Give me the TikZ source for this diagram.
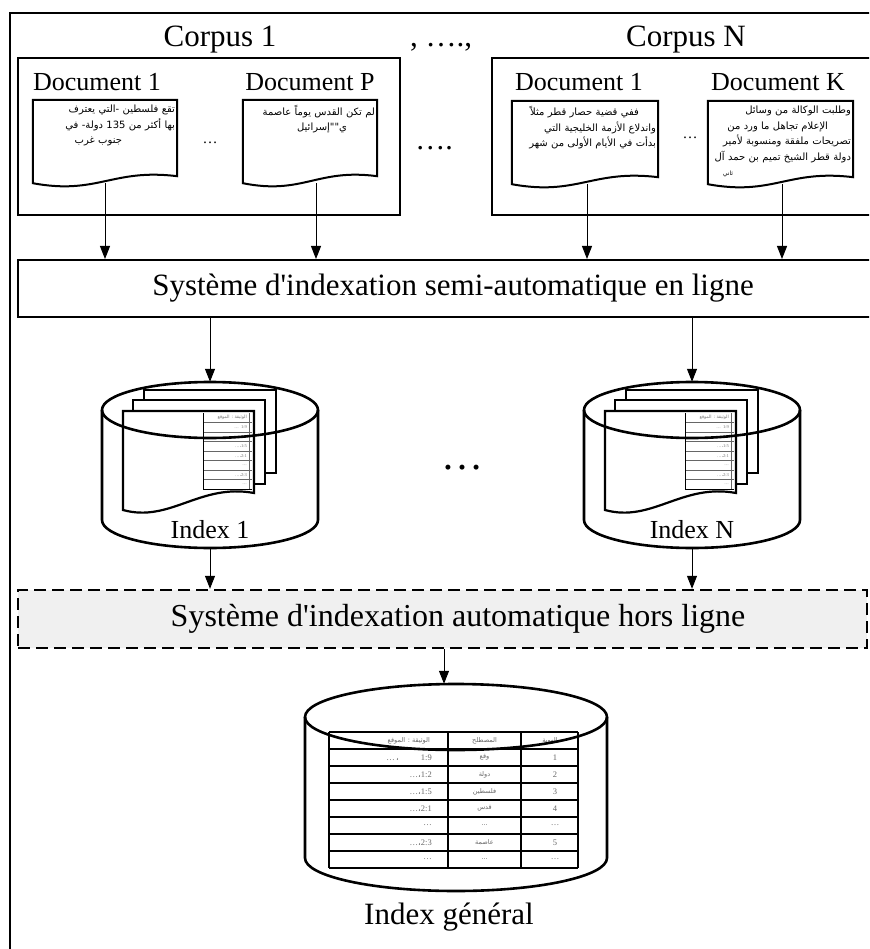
\documentclass[tikz,border=0pt]{standalone}
\usepackage{fontspec}
\setmainfont{Liberation Serif}[Ligatures=TeXOff]
\newfontfamily\arabicfont[Script=Arabic]{DejaVu Sans}
\usetikzlibrary{arrows.meta,calc}
\TeXXeTstate=1
% one line of right-to-left text, kept unbroken
\newcommand\rtlline[1]{\mbox{\beginR #1\endR}}
\newcommand\acomma{{\arabicfont ،}}
% outline of a document sheet with a wavy lower edge, drawn on a named area
\newcommand\docoutline[1]{%
  \draw[docline] (#1.south west) -- (#1.north west) -- (#1.north east)
    -- ([yshift=7pt]#1.south east)
    .. controls ($(#1.south west)!0.55!(#1.south east)+(0,15pt)$)
       and ($(#1.south west)!0.45!(#1.south east)+(0,-12pt)$) .. (#1.south west) -- cycle;}

\tikzset{
  frameline/.style={line width=1.3pt},
  corpusbox/.style={draw, line width=2.6pt, inner sep=0pt},
  bigtext/.style={font=\fontsize{31}{36}\selectfont, inner sep=0pt, anchor=base},
  doclabel/.style={font=\fontsize{26}{31}\selectfont, inner sep=0pt, anchor=base},
  docarea/.style={inner sep=0pt, minimum height=83pt},
  docline/.style={line width=2pt, fill=white},
  doctext/.style={font=\arabicfont\fontsize{10}{15.5}\selectfont, inner sep=0pt, align=right, anchor=north east},
  gapdots/.style={font=\fontsize{15}{18}\selectfont, inner sep=0pt, anchor=base},
  sysbox/.style={draw, line width=2pt, inner sep=0pt, minimum height=57pt},
  offbox/.style={draw, dash pattern=on 12pt off 6pt, line width=2.4pt, fill=black!6, inner sep=0pt, minimum height=58pt},
  systext/.style={font=\fontsize{31}{36}\selectfont, inner sep=0pt},
  flow/.style={line width=1pt, -{Triangle[length=13pt,width=10pt]}},
  cylline/.style={line width=2.6pt},
  pageline/.style={line width=2.2pt, fill=white},
  tabrule/.style={line width=0.6pt, black!60},
  tinytext/.style={font=\fontsize{4.5}{5}\selectfont, text=black!55, inner sep=0pt, anchor=east},
  gentab/.style={line width=1.5pt},
  genlatin/.style={font=\fontsize{8.5}{9}\selectfont, text=black!60, inner sep=0pt},
  genarabic/.style={font=\arabicfont\fontsize{6.5}{8}\selectfont, text=black!60, inner sep=0pt},
  % a storage cylinder holding a stack of index sheets
  pics/indexcyl/.style={code={
    \draw[cylline] (-108,55) -- (-108,-55)
      arc[start angle=180, end angle=360, x radius=108, y radius=28] -- (108,55);
    \draw[pageline] (-66,75) rectangle (66,-8);
    \draw[pageline] (-77,65) rectangle (55,-19);
    \draw[pageline] (-87,-45) -- (-87,54) -- (44,54) -- (44,-28)
      .. controls (-10,-18) and (-40,-58) .. (-87,-45) -- cycle;
    \foreach \k in {1,...,7} \draw[tabrule] (-7,52-9.5*\k) -- (42,52-9.5*\k);
    \draw[line width=0.8pt] (-7,52) -- (-7,-24) -- (42,-24);
    \draw[tabrule] (39,52) -- (39,-24);
    \node[tinytext] (-h) at (37,47.25) {\arabicfont\rtlline{الوثيقة : الموقع}};
    \foreach \k/\txt in {2/{\ldots\enspace 1:9}, 3/{\ldots\acomma 1:2}, 4/{\ldots\acomma 1:5},
                         5/{\ldots\acomma 2:1}, 6/{\ldots}, 7/{\ldots\acomma 2:3}, 8/{\ldots}}
      \node[tinytext] (-r\k) at (37,52-9.5*\k+4.75) {\txt};
    \draw[cylline] (0,55) ellipse[x radius=108, y radius=28];
    \node[inner sep=0pt, minimum width=216pt, minimum height=166pt] (-box) at (0,0) {};
    \node[bigtext, font=\fontsize{26}{30}\selectfont] (-label) at (0,-73) {#1};
  }},
}

\begin{document}
\begin{tikzpicture}[x=1pt, y=1pt]
\useasboundingbox (0,0) rectangle (869,-949);
\clip (0,0) rectangle (869,-949);
\draw[frameline] (10,-990) -- (10,-13) -- (920,-13);

% corpus titles
\node[bigtext] (t1) at (220,-47) {Corpus 1};
\node[bigtext] (tsep) at (441,-47) {, ….,};
\node[bigtext] (tN) at (686,-47) {Corpus N};

% corpus frames
\node[corpusbox, minimum width=382pt, minimum height=157pt] (c1) at (209,-136.5) {};
\node[corpusbox, minimum width=400pt, minimum height=157pt] (cN) at (692,-136.5) {};

% document labels
\node[doclabel] (l11) at (97,-91) {Document 1};
\node[doclabel] (l1P) at (310,-91) {Document P};
\node[doclabel] (lN1) at (579,-91) {Document 1};
\node[doclabel] (lNK) at (778,-91) {Document K};

% document sheets
\node[docarea, minimum width=144pt] (d11) at (105,-141.5) {};
\node[docarea, minimum width=134pt] (d1P) at (310,-141.5) {};
\node[docarea, minimum width=146pt] (dN1) at (585,-142.5) {};
\node[docarea, minimum width=145pt] (dNK) at (780.5,-142.5) {};
\docoutline{d11}
\docoutline{d1P}
\docoutline{dN1}
\docoutline{dNK}

\node[doctext, text width=140pt] (x11) at ([xshift=-2pt,yshift=-5pt]d11.north east)
  {\rtlline{تقع فلسطين -التي يعترف}\\
   \rtlline{بها أكثر من 135 دولة- في}\\
   \rtlline{جنوب غرب}\kern53pt};
\node[doctext, text width=130pt] (x1P) at ([xshift=-2pt,yshift=-5pt]d1P.north east)
  {\rtlline{لم تكن القدس يوماً عاصمة}\\
   \rtlline{ي""إسرائيل}\kern28pt};
\node[doctext, text width=142pt] (xN1) at ([xshift=-2pt,yshift=-5pt]dN1.north east)
  {\rtlline{ففي قضية حصار قطر مثلاً}\kern17pt\\
   \rtlline{واندلاع الأزمة الخليجية التي}\\
   \rtlline{بدأت في الأيام الأولى من شهر}};
\node[doctext, text width=141pt] (xNK) at ([xshift=-2pt,yshift=-5pt]dNK.north east)
  {\rtlline{وطلبت الوكالة من وسائل}\\
   \rtlline{الإعلام تجاهل ما ورد من}\kern23pt\\
   \rtlline{تصريحات ملفقة ومنسوبة لأمير}\\
   \rtlline{دولة قطر الشيخ تميم بن حمد آل}\\
   {\fontsize{6}{8}\selectfont ثاني}\kern118pt};

% omission marks
\node[gapdots] (g1) at (210,-144) {…};
\node[gapdots] (gN) at (690,-139) {…};
\node[bigtext, font=\fontsize{30}{36}\selectfont] (gc) at (434,-150) {….};

% online indexing stage
\node[sysbox, systext, minimum width=870pt] (online) at (453,-288.5)
  {Système d'indexation semi-automatique en ligne};

\draw[flow] (d11.south) -- (d11.south |- online.north);
\draw[flow] ([xshift=6pt]d1P.south) -- ([xshift=6pt]d1P.south |- online.north);
\draw[flow] ([xshift=2pt]dN1.south) -- ([xshift=2pt]dN1.south |- online.north);
\draw[flow] ([xshift=1.5pt]dNK.south) -- ([xshift=1.5pt]dNK.south |- online.north);

% per-corpus indexes
\pic (ixa) at (210,-465) {indexcyl=Index 1};
\pic (ixn) at (692,-465) {indexcyl=Index N};
\node[font=\fontsize{42}{48}\selectfont, inner sep=0pt] (gi) at (462,-468) {…};

\draw[flow] (online.south -| ixa-box.north) -- (ixa-box.north);
\draw[flow] (online.south -| ixn-box.north) -- (ixn-box.north);

% offline indexing stage
\node[offbox, minimum width=849pt] (offline) at (442.5,-619) {};
\node[systext, font=\fontsize{32}{38}\selectfont] (offlinetxt) at (458,-619) {Système d'indexation automatique hors ligne};

\draw[flow] (ixa-box.south) -- (ixa-box.south |- offline.north);
\draw[flow] (ixn-box.south) -- (ixn-box.south |- offline.north);

% general index
\node[inner sep=0pt, minimum width=302pt, minimum height=207pt] (gen) at (456,-787.5) {};
\draw[flow] ([xshift=-12pt]gen.north |- offline.south) -- ([xshift=-12pt]gen.north);

\begin{scope}[shift={(456,-787.5)}]
  \draw[cylline] (-151,70.5) -- (-151,-70.5)
    arc[start angle=180, end angle=360, x radius=151, y radius=33] -- (151,70.5);
  \foreach \k in {0,...,8} \draw[gentab] (-127,55.5-17*\k) -- (122,55.5-17*\k);
  \foreach \cx in {-127,-8,65,122} \draw[gentab] (\cx,55.5) -- (\cx,-80.5);
  \node[genarabic, anchor=east] (gh1) at (-26,47) {\rtlline{الوثيقة : الموقع}};
  \node[genarabic] (gh2) at (28.5,47) {المصطلح};
  \node[genarabic] (gh3) at (94,47) {الهوية};
  \foreach \k/\a/\b/\c in {1/{\ldots\,\acomma\hspace{22pt}1:9}/وقع/1,
                           2/{\ldots\acomma 1:2}/دولة/2,
                           3/{\ldots\acomma 1:5}/فلسطين/3,
                           4/{\ldots\acomma 2:1}/قدس/4,
                           5/{\ldots}/{\ldots}/{\ldots},
                           6/{\ldots\acomma 2:3}/عاصمة/5,
                           7/{\ldots}/{\ldots}/{\ldots}} {
    \node[genlatin, anchor=east] (gl\k) at (-24,47-17*\k) {\a};
    \node[genarabic] (gm\k) at (28.5,47-17*\k) {\b};
    \node[genlatin] (gr\k) at (99,47-17*\k) {\c};
  }
  \draw[cylline] (0,70.5) ellipse[x radius=151, y radius=33];
\end{scope}
\node[bigtext] (genlabel) at (449,-924) {Index général};
\end{tikzpicture}
\end{document}
